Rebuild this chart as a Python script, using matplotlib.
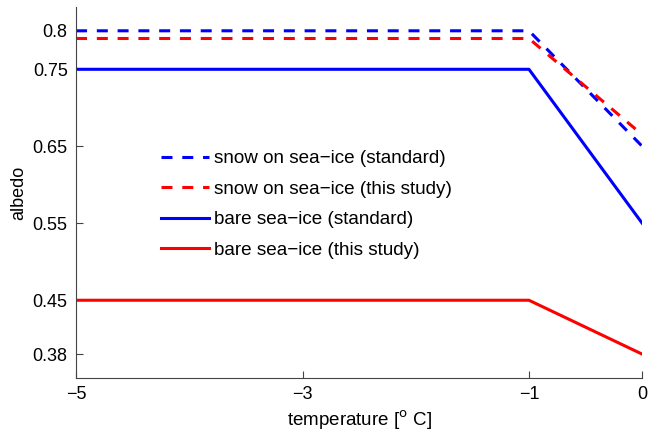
import matplotlib.pyplot as plt

plt.rcParams['font.family'] = ['Liberation Sans', 'DejaVu Sans']

temp = [-5, -1, 0]
snow_standard = [0.8, 0.8, 0.65]
snow_this_study = [0.79, 0.79, 0.665]
bare_standard = [0.75, 0.75, 0.55]
bare_this_study = [0.45, 0.45, 0.38]

x_ticks = [-5, -3, -1, 0]
y_ticks = [0.38, 0.45, 0.55, 0.65, 0.75, 0.8]

fig = plt.figure(figsize=(6.5, 4.33), dpi=100)
ax = fig.add_axes([0.117, 0.127, 0.871, 0.857])

dash = (0, (3.6, 3.2))
ax.plot(temp, snow_standard, color='blue', lw=2.2, linestyle=dash,
        label='snow on sea\u2212ice (standard)')
ax.plot(temp, snow_this_study, color='red', lw=2.2, linestyle=dash,
        label='snow on sea\u2212ice (this study)')
ax.plot(temp, bare_standard, color='blue', lw=2.2,
        label='bare sea\u2212ice (standard)')
ax.plot(temp, bare_this_study, color='red', lw=2.2,
        label='bare sea\u2212ice (this study)')

ax.set_xlim(-5, 0)
ax.set_ylim(0.349, 0.831)
ax.set_xticks(x_ticks)
ax.set_xticklabels(['\u22125', '\u22123', '\u22121', '0'])
ax.set_yticks(y_ticks)
ax.set_yticklabels(['0.38', '0.45', '0.55', '0.65', '0.75', '0.8'])
ax.tick_params(direction='in', length=5, labelsize=13, color='#444444', pad=6)

for side in ['top', 'right']:
    ax.spines[side].set_visible(False)
for side in ['left', 'bottom']:
    ax.spines[side].set_color('#444444')

ax.set_xlabel('temperature [$^{\\mathrm{o}}$ C]', fontsize=13.5)
ax.set_ylabel('albedo', fontsize=13, labelpad=4)

ax.legend(loc='upper left', bbox_to_anchor=(0.150, 0.614), frameon=False,
          fontsize=13.6, handlelength=2.55, handletextpad=0.27,
          labelspacing=0.7, borderpad=0, borderaxespad=0)

fig.savefig('out.png', dpi=100)
